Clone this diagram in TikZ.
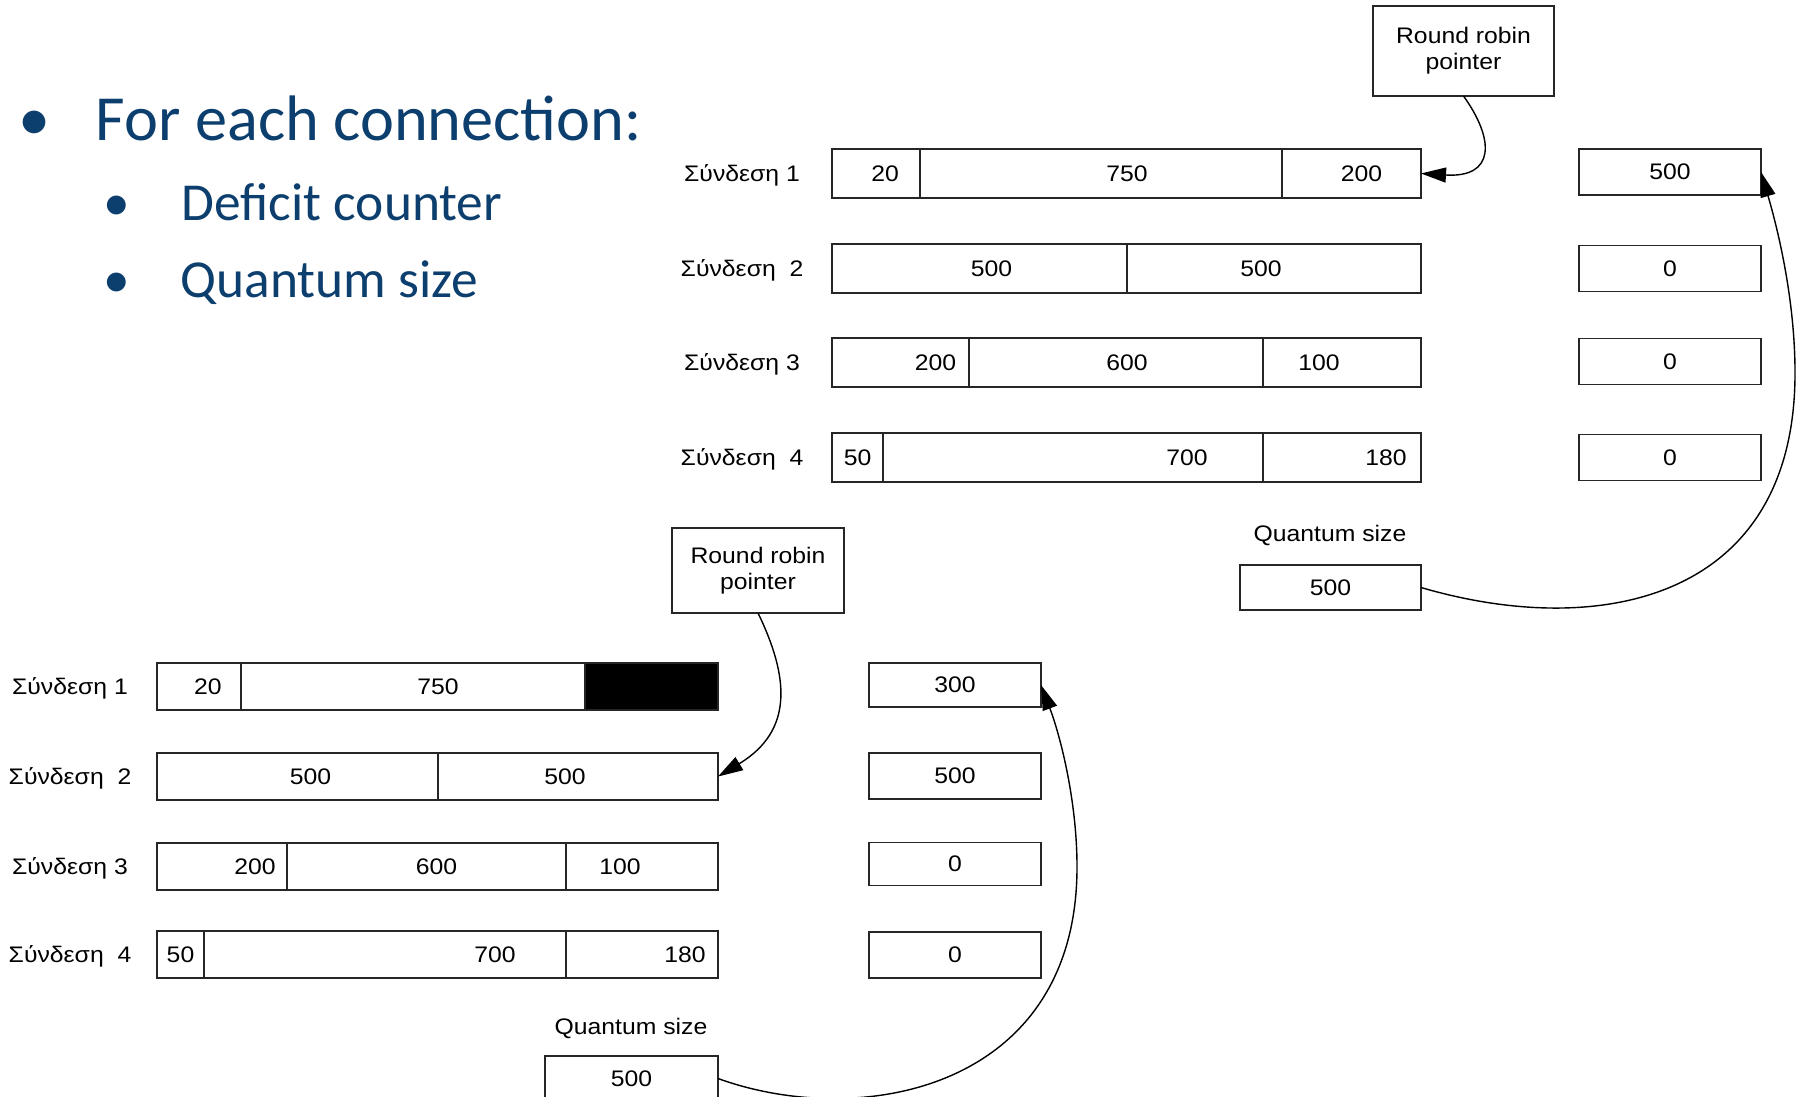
\documentclass[tikz,border=0pt]{standalone}
\usepackage{fontspec}
\usetikzlibrary{arrows.meta}
\newfontfamily\slidefont{Carlito}
\newfontfamily\diagfont[FakeStretch=1.1]{Liberation Sans}
\definecolor{slideblue}{RGB}{12,62,110}
\tikzset{
  cell/.style={draw=black!85, line width=0.4pt, inner sep=0pt, outer sep=0pt, anchor=north west,
    minimum height=4.9mm, font=\diagfont\fontsize{6.4}{7.4}\selectfont},
  dbox/.style={cell, anchor=west},
  lbl/.style={inner sep=0pt, font=\diagfont\fontsize{6.4}{7.4}\selectfont},
  ptr/.style={line width=0.4pt, -{Triangle[length=2.5mm,width=1.5mm]}},
  bigtxt/.style={anchor=base west, inner sep=0pt, text=slideblue, font=\slidefont\fontsize{18.3}{22}\selectfont},
  subtxt/.style={anchor=base west, inner sep=0pt, text=slideblue, font=\slidefont\fontsize{15.2}{18}\selectfont},
}
\begin{document}
\begin{tikzpicture}[x=0.1mm,y=-0.1mm]
\useasboundingbox (0,0) rectangle (1798,1096);
% bullet list
\node[bigtxt, anchor=base] (bul1) at (35,141) {•};
\node[bigtxt] (head) at (95,141) {For each connection:};
\node[subtxt, anchor=base] (bul2) at (117,220) {•};
\node[subtxt] (item1) at (181,220) {Deficit counter};
\node[subtxt, anchor=base] (bul3) at (117,297) {•};
\node[subtxt] (item2) at (180,297) {Quantum size};

% upper queues
\node[lbl] (la1) at (742,175) {Σύνδεση 1};
\node[lbl] (la2) at (742,270) {Σύνδεση\ \ 2};
\node[lbl] (la3) at (742,364) {Σύνδεση 3};
\node[lbl] (la4) at (742,459) {Σύνδεση\ \ 4};
\node[cell, minimum width=8.8mm] (a11) at (832,149) {\hspace*{1.8mm}20};
\node[cell, minimum width=36.2mm] (a12) at (920,149) {\hspace*{5.2mm}750};
\node[cell, minimum width=13.9mm] (a13) at (1282,149) {\hspace*{2mm}200};
\node[cell, minimum width=29.5mm] (a21) at (832,244) {\hspace*{2.4mm}500};
\node[cell, minimum width=29.4mm] (a22) at (1127,244) {500\hspace*{2.6mm}};
\node[cell, minimum width=13.7mm] (a31) at (832,338) {\hspace*{7mm}200};
\node[cell, minimum width=29.4mm] (a32) at (969,338) {\hspace*{2.2mm}600};
\node[cell, minimum width=15.8mm] (a33) at (1263,338) {100\hspace*{4.6mm}};
\node[cell, minimum width=5.1mm] (a41) at (832,433) {50};
\node[cell, minimum width=38mm] (a42) at (883,433) {\hspace*{22.8mm}700};
\node[cell, minimum width=15.8mm] (a43) at (1263,433) {\hspace*{8.8mm}180};
\node[dbox, minimum width=18.2mm, minimum height=4.6mm] (da1) at (1579,172) {500};
\node[dbox, minimum width=18.2mm, minimum height=4.6mm] (da2) at (1579,268.5) {0};
\node[dbox, minimum width=18.2mm, minimum height=4.6mm] (da3) at (1579,361.5) {0};
\node[dbox, minimum width=18.2mm, minimum height=4.6mm] (da4) at (1579,457.5) {0};
\node[cell, minimum width=18.1mm, minimum height=9mm, align=center] (ra) at (1373,6) {Round robin\\pointer};
\node[lbl] (qla) at (1330,535) {Quantum size};
\node[cell, minimum width=18.1mm, minimum height=4.5mm] (qa) at (1240,565) {500};
\coordinate (ta) at (1795,373);
\draw[ptr] (ra.south) .. controls (1495,140) and (1495,178) .. (a13.east);
\draw[ptr] (qa.east) .. controls (1600,640) and (1795,600) .. (ta)
  .. controls (1795,300) and (1778,230) .. (da1.east);

% lower queues
\node[lbl] (lb1) at (70,688) {Σύνδεση 1};
\node[lbl] (lb2) at (70,778) {Σύνδεση\ \ 2};
\node[lbl] (lb3) at (70,868) {Σύνδεση 3};
\node[lbl] (lb4) at (70,956) {Σύνδεση\ \ 4};
\node[cell, minimum width=8.4mm, minimum height=4.7mm] (b11) at (157,663) {\hspace*{1.8mm}20};
\node[cell, minimum width=34.4mm, minimum height=4.7mm] (b12) at (241,663) {\hspace*{5mm}750};
\node[cell, minimum width=13.3mm, minimum height=4.7mm, fill=black] (b13) at (585,663) {};
\node[cell, minimum width=28.1mm, minimum height=4.7mm] (b21) at (157,753) {\hspace*{2.6mm}500};
\node[cell, minimum width=28mm, minimum height=4.7mm] (b22) at (438,753) {500\hspace*{2.6mm}};
\node[cell, minimum width=13mm, minimum height=4.7mm] (b31) at (157,843) {\hspace*{6.6mm}200};
\node[cell, minimum width=27.9mm, minimum height=4.7mm] (b32) at (287,843) {\hspace*{2mm}600};
\node[cell, minimum width=15.2mm, minimum height=4.7mm] (b33) at (566,843) {100\hspace*{4.4mm}};
\node[cell, minimum width=4.7mm, minimum height=4.7mm] (b41) at (157,931) {50};
\node[cell, minimum width=36.2mm, minimum height=4.7mm] (b42) at (204,931) {\hspace*{22mm}700};
\node[cell, minimum width=15.2mm, minimum height=4.7mm] (b43) at (566,931) {\hspace*{8.6mm}180};
\node[dbox, minimum width=17.2mm, minimum height=4.4mm] (db1) at (869,685) {300};
\node[dbox, minimum width=17.2mm, minimum height=4.6mm] (db2) at (869,776) {500};
\node[dbox, minimum width=17.2mm, minimum height=4.3mm] (db3) at (869,864) {0};
\node[dbox, minimum width=17.2mm, minimum height=4.6mm] (db4) at (869,955) {0};
\node[cell, minimum width=17.2mm, minimum height=8.5mm, align=center] (rb) at (672,528) {Round robin\\pointer};
\node[lbl] (qlb) at (631,1028) {Quantum size};
\node[cell, minimum width=17.3mm, minimum height=4.5mm] (qb) at (545,1056) {500};
\coordinate (tb) at (1077,867);
\draw[ptr] (rb.south) .. controls (788,675) and (795,730) .. (b22.east);
\draw[ptr] (qb.east) .. controls (860,1130) and (1077,1090) .. (tb)
  .. controls (1077,800) and (1060,735) .. (db1.east);
\end{tikzpicture}
\end{document}
